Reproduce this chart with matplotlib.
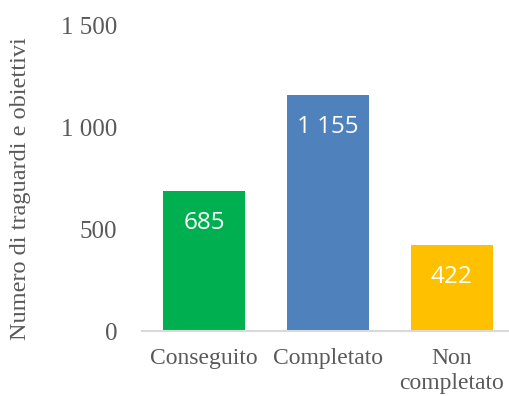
import matplotlib.pyplot as plt
from matplotlib.ticker import FuncFormatter

# dati
categorie = ['Conseguito', 'Completato', 'Non\ncompletato']
valori = [685, 1155, 422]
colori = ['#00B050', '#4F81BD', '#FFC000']
yticks = [0, 500, 1000, 1500]


def migliaia(v, pos=None):
    # separatore delle migliaia con lo spazio
    return '{:,.0f}'.format(v).replace(',', ' ')


fig = plt.figure(figsize=(5.10, 3.96), dpi=100)
ax = fig.add_axes([142 / 510, 65 / 396, 368 / 510, 306 / 396])

x = range(len(categorie))
bars = ax.bar(x, valori, width=0.66, color=colori, zorder=2)

for b, v in zip(bars, valori):
    ax.annotate(migliaia(v), (b.get_x() + b.get_width() / 2, v),
                xytext=(0, -23), textcoords='offset points',
                ha='center', va='center', color='white',
                fontsize=17.5, family='Open Sans')

ax.set_xlim(-0.5, 2.47)
ax.set_ylim(0, 1500)
ax.set_yticks(yticks)
ax.yaxis.set_major_formatter(FuncFormatter(migliaia))
ax.set_xticks(list(x))
ax.set_xticklabels(categorie, family='Liberation Serif', fontsize=17,
                   color='#595959', linespacing=1.25)

for lab in ax.get_yticklabels():
    lab.set_family('Liberation Serif')
    lab.set_fontsize(18)
    lab.set_color('#595959')

ax.tick_params(axis='y', length=0, pad=25 * 0.72)
ax.tick_params(axis='x', length=0, pad=12)

for s in ['top', 'right', 'left']:
    ax.spines[s].set_visible(False)
ax.spines['bottom'].set_color('#d9d9d9')
ax.spines['bottom'].set_linewidth(1.5)

fig.text(21 / 510, 1 - 189 / 396, 'Numero di traguardi e obiettivi',
         rotation=90, ha='center', va='center', family='Liberation Serif',
         fontsize=17.5, color='#595959')

fig.savefig('out.png', dpi=100)
